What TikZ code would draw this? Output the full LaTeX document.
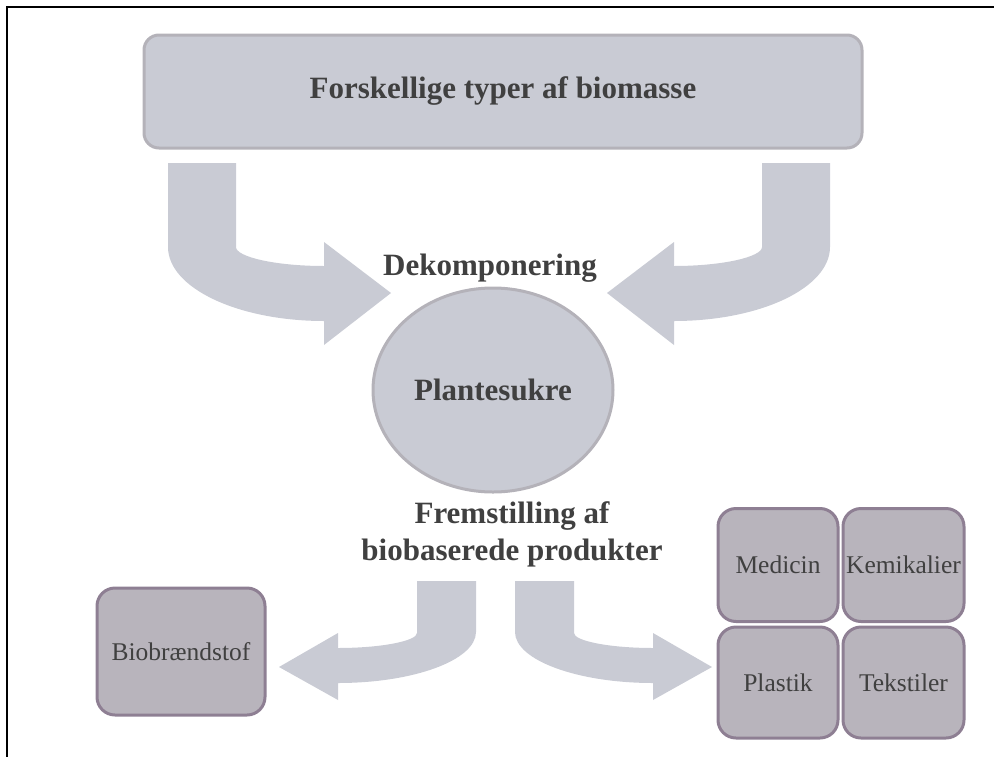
\documentclass[tikz,border=0pt]{standalone}
\usepackage{fontspec}
\setmainfont{Liberation Serif}
\usetikzlibrary{shapes.geometric}
\definecolor{flowfill}{HTML}{C9CBD4}
\definecolor{flowline}{HTML}{B4B2B9}
\definecolor{prodfill}{HTML}{B8B4BC}
\definecolor{prodline}{HTML}{8E7F93}
\definecolor{textgray}{HTML}{404040}
\tikzset{
    heading/.style = {
      font=\fontsize{31}{37}\selectfont\bfseries, text=textgray, align=center,
    },
    item/.style = {
      font=\fontsize{25.5}{30}\selectfont, text=textgray, inner sep=0,
    },
    source/.style = {
      heading, draw=flowline, fill=flowfill, line width=3pt,
      rounded corners=15pt, minimum width=718pt, minimum height=113pt,
    },
    sugar/.style = {
      heading, ellipse, draw=flowline, fill=flowfill, line width=3pt,
      minimum width=240pt, minimum height=204pt, inner sep=0,
    },
    product/.style = {
      item, draw=prodline, fill=prodfill, line width=3pt,
      rounded corners=18pt, minimum width=120pt, minimum height=113pt,
    },
    flow/.style = {fill=flowfill},
    frame/.style = {draw=black, line width=2pt},
}
\newcommand{\upperflow}{%
  %% Bent block arrow from the biomass box down into the sugar
  \fill [flow] (168,163) -- (236,163) -- (236,247)
    .. controls (236,257) and (276,266) .. (324,266)
    -- (324,242) -- (391,293) -- (324,345) -- (324,321)
    .. controls (238,321) and (168,288) .. (168,247) -- cycle;
}
\newcommand{\lowerflow}{%
  %% Bent block arrow from the products text out to the product boxes
  \fill [flow] (515,581) -- (574,581) -- (574,633)
    .. controls (574,641) and (610,648) .. (653,648)
    -- (653,633) -- (712,667) -- (653,700) -- (653,683)
    .. controls (577,683) and (515,660) .. (515,632) -- cycle;
}

\begin{document}
\begin{tikzpicture}[x=1pt, y=-1pt]
    \useasboundingbox (0,0) rectangle (994,756);
    \draw [frame] (7,7) rectangle (1010,770);

    %% Biomass on top, decomposed into plant sugar
    \node [source] (biomasse) at (503,91.5) {Forskellige typer af biomasse};
    \upperflow
    \begin{scope}[xshift=998pt, xscale=-1]
      \upperflow
    \end{scope}
    \node [heading, inner sep=0] (dekomp) at (490,268) {Dekomponering};
    \node [sugar] (sukre) at (493,390) {Plantesukre};

    %% Production of bio-based products
    \node [heading, inner sep=0] (fremst) at (512,534)
          {Fremstilling af\\biobaserede produkter};
    \lowerflow
    \begin{scope}[xshift=991pt, xscale=-1]
      \lowerflow
    \end{scope}

    %% The products
    \node [product, minimum width=168pt, minimum height=127pt]
          (brand) at (181,651.5) {Biobrændstof};
    \node [product] (medicin) at (778,565) {Medicin};
    \node [product, minimum width=121pt] (kemi) at (903.5,565) {Kemikalier};
    \node [product, minimum height=111pt] (plast) at (778,682.5) {Plastik};
    \node [product, minimum width=121pt, minimum height=111pt]
          (tekstil) at (903.5,682.5) {Tekstiler};
\end{tikzpicture}
\end{document}
